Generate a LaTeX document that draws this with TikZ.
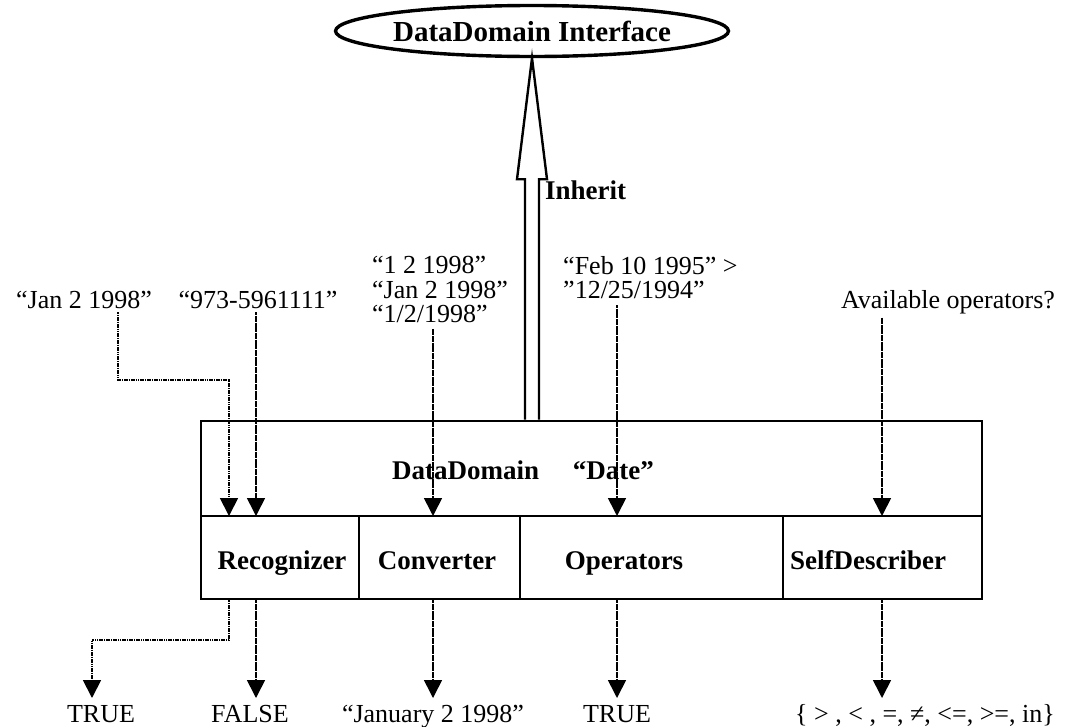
\documentclass[tikz,border=0pt]{standalone}
\usepackage{fontspec}
\setmainfont{Liberation Serif}
\usetikzlibrary{arrows.meta,shapes.geometric,calc}
\begin{document}
\begin{tikzpicture}[x=1pt,y=-1pt,
  txt/.style={font=\fontsize{26}{24.5}\selectfont, inner sep=0pt},
  btxt/.style={font=\fontsize{27}{24}\selectfont\bfseries, inner sep=0pt},
  frame/.style={draw, line width=2.8pt, inner sep=0pt},
  flow/.style={line width=1.6pt, dash pattern=on 3pt off 0.4pt,
    -{Triangle[width=18pt,length=18pt,sep=0pt]}},
  dotflow/.style={flow, line width=1.8pt, dash pattern=on 1.6pt off 0.7pt},
  hollow/.style={line width=2.4pt, line join=miter}]
\useasboundingbox (0,0) rectangle (1086,726);

% interface ellipse
\node[draw, ellipse, line width=3.4pt, minimum width=338pt, minimum height=51pt,
  inner sep=0pt, font=\fontsize{29}{30}\selectfont\bfseries] (iface) at (532,31)
  {DataDomain Interface};

% the DataDomain box and its four parts
\node[frame, minimum width=781pt, minimum height=95pt] (dd) at (591.5,468.5) {};
\node[frame, minimum width=158pt, minimum height=83pt] (rec)  at (280,557.5) {};
\node[frame, minimum width=161pt, minimum height=83pt] (conv) at (439.5,557.5) {};
\node[frame, minimum width=263pt, minimum height=83pt] (ops)  at (651.5,557.5) {};
\node[frame, minimum width=199pt, minimum height=83pt] (self) at (882.5,557.5) {};

\node[btxt, anchor=base] (ddlbl) at (523,479) {DataDomain\quad\ “Date”};
\node[btxt, anchor=base] (reclbl)  at (282,569) {Recognizer};
\node[btxt, anchor=base] (convlbl) at (437,569) {Converter};
\node[btxt, anchor=base] (opslbl)  at (624,569) {Operators};
\node[btxt, anchor=base] (selflbl) at (868,569) {SelfDescriber};

% inheritance arrow
\coordinate (tip) at (iface.south);
\coordinate (base) at (tip |- dd.north);
\draw[hollow] (base) ++(-7,0) -- ($(tip)+(-7,121)$) -- ($(tip)+(-15,121)$)
  -- (tip) -- ($(tip)+(15,121)$) -- ($(tip)+(7,121)$) -- ($(base)+(7,0)$);
\node[btxt, anchor=base west] (inh) at (545,199) {Inherit};

% inputs
\node[txt, anchor=base] (jan) at (84,308) {“Jan 2 1998”};
\node[txt, anchor=base] (tel) at (258,308) {“973-5961111”};
\node[txt, align=left, anchor=north west] (cin) at (372,256)
  {“1 2 1998”\\“Jan 2 1998”\\“1/2/1998”};
\node[txt, align=left, anchor=north west] (oin) at (563,256)
  {“Feb 10 1995” >\\”12/25/1994”};
\node[txt, anchor=base] (ask) at (948,308) {Available operators?};

% outputs
\node[txt, anchor=base] (o1) at (101,722) {TRUE};
\node[txt, anchor=base] (o2) at (250,722) {FALSE};
\node[txt, anchor=base] (o3) at (433,722) {“January 2 1998”};
\node[txt, anchor=base] (o4) at (617,722) {TRUE};
\node[txt, anchor=base west] (o5) at (795,722) {\{ > , < , =, ≠, <=, >=, in\}};

% entry points on the parts
\coordinate (r1) at (229,516);
\coordinate (r2) at (256,516);
\coordinate (c1) at (433,516);
\coordinate (p1) at (617,516);
\coordinate (s1) at (882,516);

\draw[dotflow] ($(jan.south)+(34,4)$) |- ($(r1)+(0,-136)$) -- (r1);
\draw[flow] (tel.south -| r2) ++(0,4) -- (r2);
\draw[flow] (cin.south -| c1) ++(0,6) -- (c1);
\draw[flow] (oin.south -| p1) ++(0,6) -- (p1);
\draw[flow] (ask.south -| s1) ++(0,4) -- (s1);

\draw[dotflow] (r1 |- rec.south) |- (92,640) -- (92,698);
\draw[flow] (r2 |- rec.south) -- (256,698);
\draw[flow] (c1 |- conv.south) -- (433,698);
\draw[flow] (p1 |- ops.south) -- (617,698);
\draw[flow] (s1 |- self.south) -- (882,698);
\end{tikzpicture}
\end{document}
